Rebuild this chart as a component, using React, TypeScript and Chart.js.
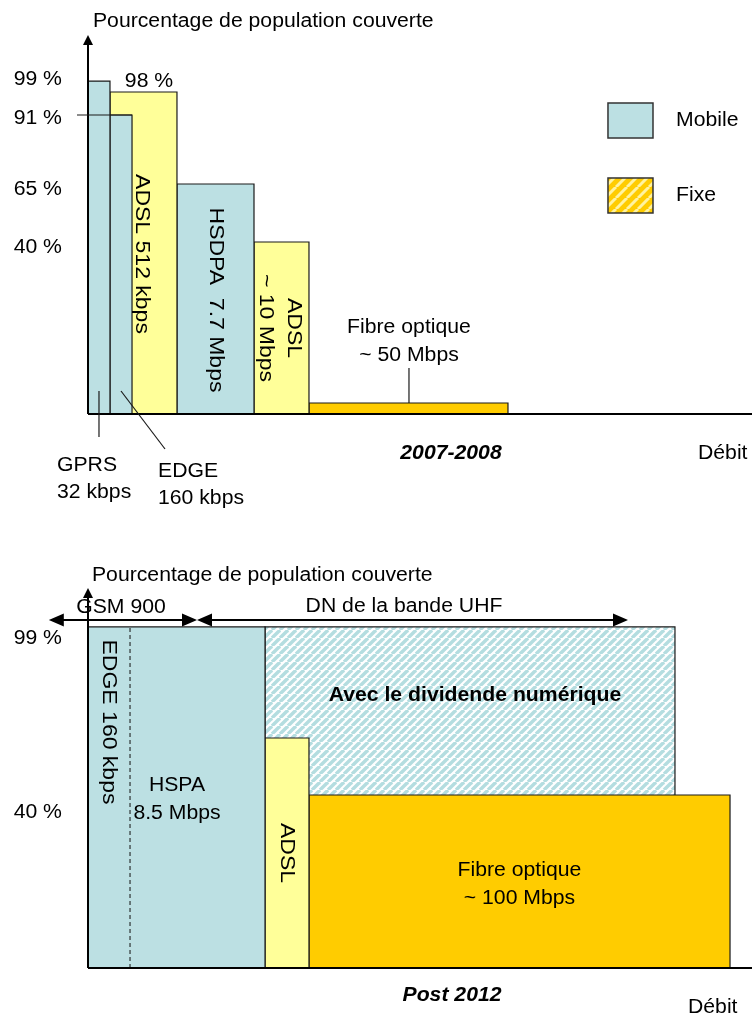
import React, { useEffect, useRef } from "react";
import { Chart, registerables } from "chart.js";

Chart.register(...registerables);

// ---------------- Data : 2007-2008 ----------------
const technos2008 = ["GPRS", "EDGE", "ADSL 512 kbps", "HSDPA 7.7 Mbps", "ADSL ~10 Mbps", "Fibre optique ~50 Mbps"];
const reseau2008 = ["Mobile", "Mobile", "Fixe", "Mobile", "Fixe", "Fixe"];
const debitDebut2008 = [0, 3.31, 3.31, 13.4, 25.0, 33.28];
const debitFin2008 = [3.31, 6.63, 13.4, 25.0, 33.28, 63.25];
const couverture2008 = [99, 88.91, 95.75, 68.39, 51.15, 3.27];
const couvertureLabels2008 = ["99 %", "91 %", "65 %", "40 %"];
const couvertureLabelLevels2008 = [99.47, 87.99, 66.91, 49.66];
const labelADSL512 = "98 %";

// ---------------- Data : Post 2012 ----------------
const technos2012 = ["EDGE 160 kbps / HSPA 8.5 Mbps", "ADSL", "Fibre optique ~100 Mbps", "Avec le dividende numérique"];
const reseau2012 = ["Mobile", "Fixe", "Fixe", "Dividende"];
const debitDebut2012 = [0, 26.66, 33.28, 26.66];
const debitFin2012 = [26.66, 33.28, 96.69, 88.4];
const couverture2012 = [99, 66.76, 50.22, 99];
const limiteEdge2012 = 6.33;
const couvertureLabels2012 = ["99 %", "40 %"];
const couvertureLabelLevels2012 = [95.79, 45.28];
const bandeGSM900 = [-5.9, 16.42];
const bandeUHF = [16.42, 81.33];

// ---------------- Styles ----------------
const BLUE = "#BCE0E3";
const YELLOW = "#FFFF99";
const ORANGE = "#FFCC00";
const EDGE_COL = "#1a1a1a";
const FONT = '"Liberation Sans", Arial, Helvetica, sans-serif';
const STRETCH = 1.06;
const STRETCH_ROT = 1.15;

function fillFor(techno: string, reseau: string): any {
  if (reseau === "Mobile") return BLUE;
  if (reseau === "Dividende") return makeStripes("#ffffff", "#B4DDE0", 8, 3.4);
  if (techno.startsWith("ADSL")) return YELLOW;
  return ORANGE;
}

function makeStripes(bg: string, fg: string, size: number, width: number): any {
  const c = document.createElement("canvas");
  c.width = size;
  c.height = size;
  const g = c.getContext("2d")!;
  g.fillStyle = bg;
  g.fillRect(0, 0, size, size);
  g.strokeStyle = fg;
  g.lineWidth = width;
  for (const k of [-size, 0, size]) {
    g.beginPath();
    g.moveTo(k, size);
    g.lineTo(k + size, 0);
    g.stroke();
  }
  return g.createPattern(c, "repeat");
}

function rectDataset(label: string, x0: number, x1: number, h: number, fill: any) {
  return {
    label,
    data: [
      { x: x0, y: 0 },
      { x: x0, y: h },
      { x: x1, y: h },
      { x: x1, y: 0 },
    ],
    borderColor: EDGE_COL,
    borderWidth: 1.2,
    backgroundColor: fill,
    fill: "origin",
    pointRadius: 0,
    tension: 0,
  };
}

type TO = { align?: CanvasTextAlign; size?: number; bold?: boolean; italic?: boolean; rot?: number };
function txt(ctx: CanvasRenderingContext2D, s: string, x: number, y: number, o: TO = {}) {
  ctx.save();
  ctx.translate(x, y);
  if (o.rot) ctx.rotate(o.rot);
  ctx.scale(o.rot ? STRETCH_ROT : STRETCH, 1);
  ctx.font = `${o.italic ? "italic " : ""}${o.bold ? "bold " : ""}${o.size || 20}px ${FONT}`;
  ctx.textAlign = o.align || "center";
  ctx.textBaseline = "middle";
  ctx.fillStyle = "#000";
  ctx.fillText(s, 0, 0);
  ctx.restore();
}

function line(ctx: CanvasRenderingContext2D, x0: number, y0: number, x1: number, y1: number) {
  ctx.beginPath();
  ctx.moveTo(x0, y0);
  ctx.lineTo(x1, y1);
  ctx.stroke();
}

function arrowHead(ctx: CanvasRenderingContext2D, tx: number, ty: number, dx: number, dy: number, len: number, half: number) {
  const bx = tx - dx * len;
  const by = ty - dy * len;
  const px = -dy;
  const py = dx;
  ctx.beginPath();
  ctx.moveTo(tx, ty);
  ctx.lineTo(bx + px * half, by + py * half);
  ctx.lineTo(bx - px * half, by - py * half);
  ctx.closePath();
  ctx.fill();
}

const ROT = Math.PI / 2;

const plugin2008 = {
  id: "annot2008",
  afterDatasetsDraw(chart: any) {
    const ctx: CanvasRenderingContext2D = chart.ctx;
    const xs = chart.scales.x;
    const ys = chart.scales.y;
    const X = (v: number) => xs.getPixelForValue(v);
    const Y = (v: number) => ys.getPixelForValue(v);
    const ca = chart.chartArea;
    ctx.save();
    ctx.strokeStyle = "#000";
    ctx.fillStyle = "#000";

    // axes
    ctx.lineWidth = 2;
    line(ctx, X(0), Y(0), ca.right, Y(0));
    line(ctx, X(0), Y(0), X(0), ca.top + 8);
    arrowHead(ctx, X(0), ca.top, 0, -1, 10, 5);

    // 91 % tick line
    ctx.lineWidth = 1.2;
    ctx.strokeStyle = EDGE_COL;
    line(ctx, X(-1.66), Y(couverture2008[1]), X(debitFin2008[1]), Y(couverture2008[1]));

    // leaders
    const gx = (debitDebut2008[0] + debitFin2008[0]) / 2;
    const ex = (debitDebut2008[1] + debitFin2008[1]) / 2;
    line(ctx, X(gx), Y(6.84), X(gx), Y(-6.84));
    line(ctx, X(ex), Y(6.84), X(11.6), Y(-10.41));
    const fx = 48.34;
    line(ctx, X(fx), Y(13.68), X(fx), Y(couverture2008[5]));

    // titles & tick labels
    txt(ctx, "Pourcentage de population couverte", X(0.75), Y(116.71), { align: "left" });
    couvertureLabels2008.forEach((l, i) => txt(ctx, l, X(-3.92), Y(couvertureLabelLevels2008[i]), { align: "right" }));
    txt(ctx, labelADSL512, X(9.19), Y(99.02));

    // bar texts
    txt(ctx, "ADSL 512 kbps", X(8.13), Y(47.58), { rot: ROT });
    txt(ctx, "HSDPA  7.7 Mbps", X(19.13), Y(33.9), { rot: ROT });
    txt(ctx, "ADSL", X(31.02), Y(25.57), { rot: ROT });
    txt(ctx, "~ 10 Mbps", X(26.66), Y(25.57), { rot: ROT });
    txt(ctx, "Fibre optique", X(fx), Y(25.87));
    txt(ctx, "~ 50 Mbps", X(fx), Y(17.54));

    // bottom labels
    txt(ctx, "GPRS", X(-4.67), Y(-15.17), { align: "left" });
    txt(ctx, "32 kbps", X(-4.67), Y(-23.19), { align: "left" });
    txt(ctx, "EDGE", X(10.54), Y(-16.95), { align: "left" });
    txt(ctx, "160 kbps", X(10.54), Y(-24.98), { align: "left" });
    txt(ctx, "2007-2008", X(54.67), Y(-11.6), { bold: true, italic: true });
    txt(ctx, "Débit", X(91.87), Y(-11.6), { align: "left" });

    // legend
    const lx0 = X(78.31);
    const lx1 = X(85.09);
    const m0 = Y(92.48);
    const m1 = Y(82.07);
    ctx.fillStyle = BLUE;
    ctx.fillRect(lx0, m0, lx1 - lx0, m1 - m0);
    ctx.strokeStyle = "#333";
    ctx.lineWidth = 1.5;
    ctx.strokeRect(lx0, m0, lx1 - lx0, m1 - m0);
    const f0 = Y(70.18);
    const f1 = Y(59.77);
    ctx.fillStyle = makeStripes(ORANGE, "#FFF3A0", 11, 3);
    ctx.fillRect(lx0, f0, lx1 - lx0, f1 - f0);
    ctx.strokeRect(lx0, f0, lx1 - lx0, f1 - f0);
    txt(ctx, "Mobile", X(88.55), Y(87.42), { align: "left" });
    txt(ctx, "Fixe", X(88.55), Y(65.12), { align: "left" });

    ctx.restore();
  },
};

const plugin2012 = {
  id: "annot2012",
  afterDatasetsDraw(chart: any) {
    const ctx: CanvasRenderingContext2D = chart.ctx;
    const xs = chart.scales.x;
    const ys = chart.scales.y;
    const X = (v: number) => xs.getPixelForValue(v);
    const Y = (v: number) => ys.getPixelForValue(v);
    const ca = chart.chartArea;
    ctx.save();
    ctx.strokeStyle = "#000";
    ctx.fillStyle = "#000";

    // axes
    ctx.lineWidth = 2;
    line(ctx, X(0), Y(0), ca.right, Y(0));
    line(ctx, X(0), Y(0), X(0), ca.top + 8);
    arrowHead(ctx, X(0), ca.top, 0, -1, 10, 5);

    // band arrows
    const ay = Y(101.01);
    ctx.lineWidth = 2;
    for (const b of [bandeGSM900, bandeUHF]) {
      const a0 = X(b[0]);
      const a1 = X(b[1]);
      line(ctx, a0 + 8, ay, a1 - 8, ay);
      arrowHead(ctx, a0, ay, -1, 0, 15, 6.5);
      arrowHead(ctx, a1, ay, 1, 0, 15, 6.5);
    }

    txt(ctx, "Pourcentage de population couverte", X(0.6), Y(114.07), { align: "left" });
    txt(ctx, "GSM 900", X(4.97), Y(104.5));
    txt(ctx, "DN de la bande UHF", X(47.59), Y(104.79));
    couvertureLabels2012.forEach((l, i) => txt(ctx, l, X(-3.92), Y(couvertureLabelLevels2012[i]), { align: "right" }));

    txt(ctx, "EDGE 160 kbps", X(3.16), Y(71.41), { rot: ROT });
    txt(ctx, "HSPA", X(13.4), Y(53.12));
    txt(ctx, "8.5 Mbps", X(13.4), Y(44.99));
    txt(ctx, "ADSL", X(29.97), Y(33.38), { rot: ROT });
    txt(ctx, "Avec le dividende numérique", X(58.28), Y(79.24), { bold: true });
    txt(ctx, "Fibre optique", X(64.98), Y(28.45));
    txt(ctx, "~ 100 Mbps", X(64.98), Y(20.32));
    txt(ctx, "Post 2012", X(54.82), Y(-7.84), { bold: true, italic: true });
    txt(ctx, "Débit", X(90.36), Y(-11.32), { align: "left" });

    ctx.restore();
  },
};

function baseOptions(padding: any, ymax: number) {
  return {
    animation: false,
    responsive: false,
    events: [],
    layout: { padding },
    plugins: { legend: { display: false }, tooltip: { enabled: false } },
    scales: {
      x: { type: "linear", min: 0, max: 100, display: false },
      y: { type: "linear", min: 0, max: ymax, display: false },
    },
  };
}

export default function App() {
  const topRef = useRef<HTMLCanvasElement>(null);
  const botRef = useRef<HTMLCanvasElement>(null);

  useEffect(() => {
    const ds2008 = technos2008.map((t, i) =>
      rectDataset(t, debitDebut2008[i], debitFin2008[i], couverture2008[i], fillFor(t, reseau2008[i]))
    );
    const top = new Chart(topRef.current!, {
      type: "line",
      data: { datasets: ds2008 as any },
      options: baseOptions({ left: 88, right: 0, top: 35, bottom: 96 }, 112.7) as any,
      plugins: [plugin2008],
    });

    const dashed = {
      label: "limite EDGE / HSPA",
      data: [
        { x: limiteEdge2012, y: 0 },
        { x: limiteEdge2012, y: couverture2012[0] },
      ],
      borderColor: "#111",
      borderWidth: 1,
      borderDash: [4, 3],
      fill: false,
      pointRadius: 0,
    };
    const ds2012 = [
      dashed,
      ...technos2012.map((t, i) =>
        rectDataset(t, debitDebut2012[i], debitFin2012[i], couverture2012[i], fillFor(t, reseau2012[i]))
      ),
    ];
    const bot = new Chart(botRef.current!, {
      type: "line",
      data: { datasets: ds2012 as any },
      options: baseOptions({ left: 88, right: 0, top: 78, bottom: 46 }, 110.3) as any,
      plugins: [plugin2012],
    });

    return () => {
      top.destroy();
      bot.destroy();
    };
  }, []);

  return (
    <div style={{ position: "absolute", left: 0, top: 0, width: 752, height: 1014, background: "#fff" }}>
      <canvas ref={topRef} width={752} height={510} style={{ position: "absolute", left: 0, top: 0, width: 752, height: 510 }} />
      <canvas ref={botRef} width={752} height={504} style={{ position: "absolute", left: 0, top: 510, width: 752, height: 504 }} />
    </div>
  );
}
